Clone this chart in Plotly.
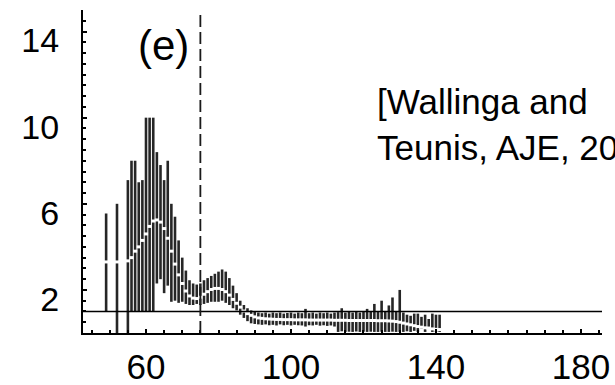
import plotly.graph_objects as go

# ---- data ----
days = [49, 52] + list(range(55, 142))

upper = [5.55, 6.0,
         7.1, 8.0, 8.0, 7.0, 7.1, 10.0, 10.0, 10.0, 8.4, 7.8,
         7.1, 8.0, 6.0, 5.4, 4.3, 3.5, 2.9, 2.45, 2.3, 2.25,
         2.3, 2.45, 2.55, 2.65, 2.75, 2.85, 2.95, 2.85, 2.55, 2.2,
         1.85, 1.5, 1.3, 1.15, 1.05, 1.0, 0.95, 0.92, 0.95, 0.9,
         0.95, 0.92, 0.95, 0.9, 0.93, 0.95, 0.9, 0.95, 0.92, 1.12,
         0.92, 0.95, 0.9, 0.95, 0.92, 0.95, 0.9, 0.95, 0.97, 1.15,
         0.95, 1.0, 0.95, 1.0, 0.95, 1.02, 1.12, 1.0, 1.35, 1.0,
         1.5, 1.02, 1.28, 1.65, 1.0, 2.0, 0.95, 0.85, 0.8, 0.9,
         0.9, 0.75, 0.85, 0.65, 0.9, 0.85, 0.85]

mean = [3.3, 3.3,
        3.35, 3.5, 3.8, 4.0, 4.3, 4.6, 4.95, 5.2, 5.25, 5.15,
        4.85, 4.4, 3.8, 3.2, 2.7, 2.3, 1.95, 1.72, 1.62, 1.6,
        1.66, 1.8, 1.92, 2.02, 2.07, 2.07, 2.02, 1.92, 1.76, 1.56,
        1.38, 1.2, 1.02, 0.9, 0.82, 0.75, 0.7, 0.68, 0.66, 0.65,
        0.64, 0.63, 0.63, 0.62, 0.62, 0.62, 0.61, 0.61, 0.61, 0.61,
        0.6, 0.6, 0.6, 0.6, 0.6, 0.6, 0.6, 0.59, 0.59, 0.59,
        0.59, 0.58, 0.58, 0.58, 0.58, 0.58, 0.58, 0.58, 0.58, 0.57,
        0.57, 0.57, 0.56, 0.55, 0.53, 0.5, 0.46, 0.42, 0.38, 0.34,
        0.3, 0.27, 0.24, 0.21, 0.19, 0.17, 0.16]

lower = [1.0, 0.0,
         0.0, 1.0, 1.0, 1.0, 1.0, 1.0, 1.0, 1.0, 2.3, 2.5,
         1.85, 2.2, 1.45, 1.5, 1.4, 1.45, 1.35, 1.3, 1.3, 1.35,
         1.3, 1.35, 1.4, 1.45, 1.45, 1.45, 1.5, 1.4, 1.3, 1.15,
         1.05, 0.85, 0.7, 0.55, 0.45, 0.42, 0.4, 0.38, 0.4, 0.36,
         0.38, 0.35, 0.4, 0.36, 0.38, 0.35, 0.38, 0.36, 0.35, 0.3,
         0.36, 0.35, 0.38, 0.34, 0.36, 0.33, 0.35, 0.3, 0.05, 0.08,
         0.05, 0.06, 0.05, 0.07, 0.05, 0.06, 0.05, 0.06, 0.05, 0.05,
         0.06, 0.05, 0.05, 0.06, 0.05, 0.05, 0.05, 0.08, 0.05, 0.1,
         0.05, 0.2, 0.05, 0.3, 0.05, 0.05, 0.05]

threshold = 1
intervention_day = 75
x_ticks = [60, 100, 140, 180]
y_ticks = [2, 6, 10, 14]
panel_label = "(e)"
citation = "[Wallinga and<br>Teunis, AJE, 2004]"

# ---- build interval segments ----
seg_x, seg_y = [], []
for d, lo, hi in zip(days, lower, upper):
    seg_x += [d, d, None]
    seg_y += [lo, hi, None]

FONT = "Liberation Sans, Arial, sans-serif"

fig = go.Figure()
fig.add_trace(go.Scatter(x=seg_x, y=seg_y, mode="lines",
                         line=dict(color="#262626", width=2.6),
                         hoverinfo="skip", showlegend=False))
fig.add_trace(go.Scatter(x=days, y=mean, mode="markers",
                         marker=dict(symbol="line-ew", size=3,
                                     line=dict(color="white", width=3)),
                         showlegend=False))

# threshold line R=1
fig.add_shape(type="line", xref="paper", x0=0, x1=1, yref="y",
              y0=threshold, y1=threshold,
              line=dict(color="black", width=1.6), layer="above")
# dashed vertical line
fig.add_shape(type="line", xref="x", x0=intervention_day, x1=intervention_day,
              yref="paper", y0=0, y1=1,
              line=dict(color="#1a1a1a", width=1.8, dash="12px,5px"), layer="above")

fig.add_annotation(text=panel_label, xref="paper", yref="paper",
                   x=(163 - 83) / 519, y=(333 - 46) / 323,
                   xanchor="center", yanchor="middle", showarrow=False,
                   font=dict(family=FONT, size=42, color="black"))
fig.add_annotation(text=citation, xref="paper", yref="paper",
                   x=(375 - 83) / 519, y=(333 - 80) / 323,
                   xanchor="left", yanchor="top", align="left", showarrow=False,
                   font=dict(family=FONT, size=35, color="black"))

fig.update_layout(
    width=615, height=385,
    margin=dict(l=83, r=13, t=10, b=52, pad=0),
    paper_bgcolor="white", plot_bgcolor="white",
    showlegend=False,
    font=dict(family=FONT, size=35, color="black"),
)
fig.update_xaxes(range=[42.62, 185.8], showgrid=False, zeroline=False,
                 automargin=False,
                 showline=True, linecolor="black", linewidth=2,
                 tickmode="array", tickvals=x_ticks,
                 ticks="inside", ticklen=4, tickwidth=1.5, tickcolor="black",
                 minor=dict(dtick=5, tick0=0, ticks="inside", ticklen=3,
                            tickwidth=1.5, tickcolor="black"),
                 ticklabelstandoff=2,
                 tickfont=dict(family=FONT, size=35, color="black"))
fig.update_yaxes(range=[0, 15], showgrid=False, zeroline=False,
                 automargin=False,
                 showline=True, linecolor="black", linewidth=2,
                 tickmode="array", tickvals=y_ticks,
                 ticks="inside", ticklen=4, tickwidth=1.5, tickcolor="black",
                 minor=dict(dtick=0.5, tick0=0, ticks="inside", ticklen=3,
                            tickwidth=1.5, tickcolor="black"),
                 ticklabelstandoff=15, ticklabelshift=9,
                 tickfont=dict(family=FONT, size=34, color="black"))

fig.write_html("out.html")
